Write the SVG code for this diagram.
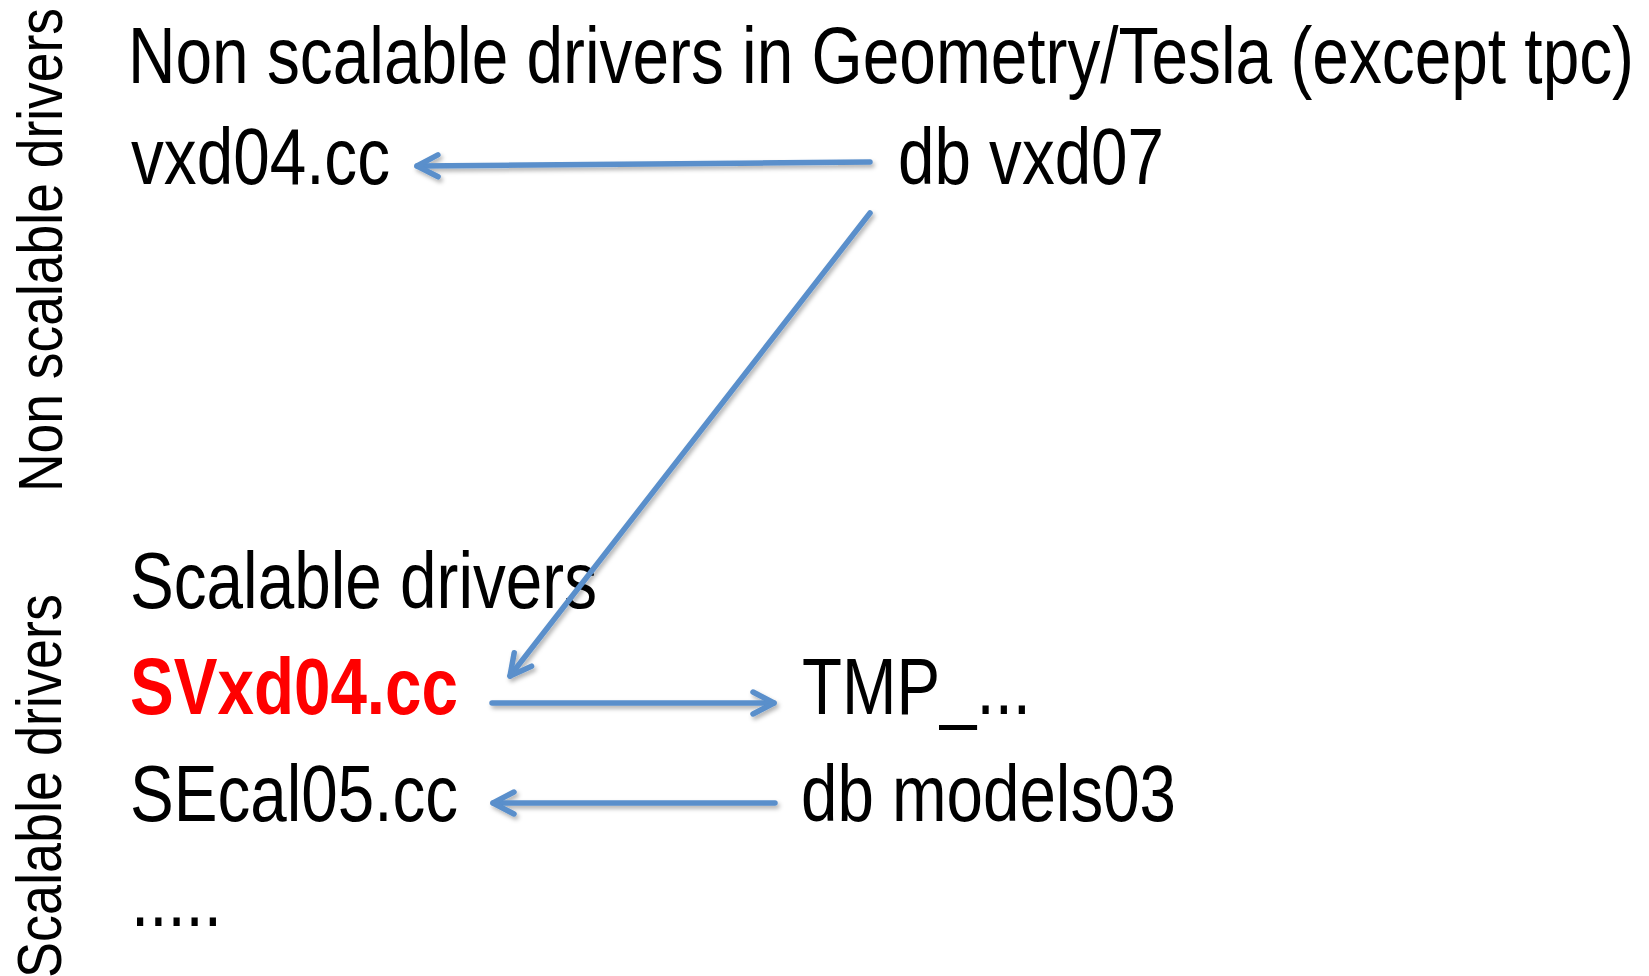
<svg xmlns="http://www.w3.org/2000/svg" width="1649" height="976" viewBox="0 0 1649 976">
  <style>
    .t { font-family: "Liberation Sans Narrow", "Arial Narrow", "Liberation Sans", Arial, sans-serif; font-size: 80px; fill: #000000; }
    .red { fill: #FF0000; font-weight: bold; }
    .side { font-family: "Liberation Sans", Arial, sans-serif; font-size: 53px; fill: #000000; }
    .conn { fill: none; stroke: #5A8FCB; stroke-width: 5.5; stroke-linecap: round; }
  </style>
  <defs>
    <filter id="shadow" filterUnits="userSpaceOnUse" x="0" y="0" width="1649" height="976">
      <feDropShadow dx="2" dy="3" stdDeviation="2" flood-color="#000000" flood-opacity="0.3"/>
    </filter>
    <marker id="arrow" markerUnits="userSpaceOnUse" viewBox="-28 -16 32 32" markerWidth="32" markerHeight="32" refX="0" refY="0" orient="auto" overflow="visible">
      <path d="M -21 -11 L 0 0 L -21 11" fill="none" stroke="#5A8FCB" stroke-width="5.5" stroke-linecap="round" stroke-linejoin="round"/>
    </marker>
  </defs>

  <rect x="0" y="0" width="1649" height="976" fill="#FFFFFF"/>

  <g id="side-non-scalable">
    <text class="side" transform="translate(62,492) rotate(-90) scale(1,1.19)" x="0" y="0" textLength="484" lengthAdjust="spacingAndGlyphs">Non scalable drivers</text>
  </g>
  <g id="side-scalable">
    <text class="side" transform="translate(61,978) rotate(-90) scale(1,1.19)" x="0" y="0" textLength="384" lengthAdjust="spacingAndGlyphs">Scalable drivers</text>
  </g>

  <g id="title">
    <text class="t" x="128" y="83" textLength="1506" lengthAdjust="spacingAndGlyphs">Non scalable drivers in Geometry/Tesla (except tpc)</text>
  </g>
  <g id="vxd04">
    <text class="t" x="131" y="184" textLength="259" lengthAdjust="spacingAndGlyphs">vxd04.cc</text>
  </g>
  <g id="db-vxd07">
    <text class="t" x="898" y="184" textLength="266" lengthAdjust="spacingAndGlyphs">db vxd07</text>
  </g>
  <g id="scalable-title">
    <text class="t" x="130" y="608" textLength="467" lengthAdjust="spacingAndGlyphs">Scalable drivers</text>
  </g>
  <g id="svxd04">
    <text class="t red" x="130" y="714" textLength="328" lengthAdjust="spacingAndGlyphs">SVxd04.cc</text>
  </g>
  <g id="tmp">
    <text class="t" x="802" y="714" textLength="229" lengthAdjust="spacingAndGlyphs">TMP_...</text>
  </g>
  <g id="secal05">
    <text class="t" x="130" y="821" textLength="328" lengthAdjust="spacingAndGlyphs">SEcal05.cc</text>
  </g>
  <g id="db-models03">
    <text class="t" x="801" y="821" textLength="375" lengthAdjust="spacingAndGlyphs">db models03</text>
  </g>
  <g id="more">
    <text class="t" x="131" y="926" textLength="91" lengthAdjust="spacingAndGlyphs">.....</text>
  </g>

  <g id="connectors" filter="url(#shadow)">
    <line class="conn" x1="870" y1="162" x2="417" y2="166" marker-end="url(#arrow)"/>
    <line class="conn" x1="870" y1="213" x2="510" y2="676" marker-end="url(#arrow)"/>
    <line class="conn" x1="492" y1="703" x2="774" y2="703" marker-end="url(#arrow)"/>
    <line class="conn" x1="775" y1="803" x2="493" y2="803" marker-end="url(#arrow)"/>
  </g>
</svg>
